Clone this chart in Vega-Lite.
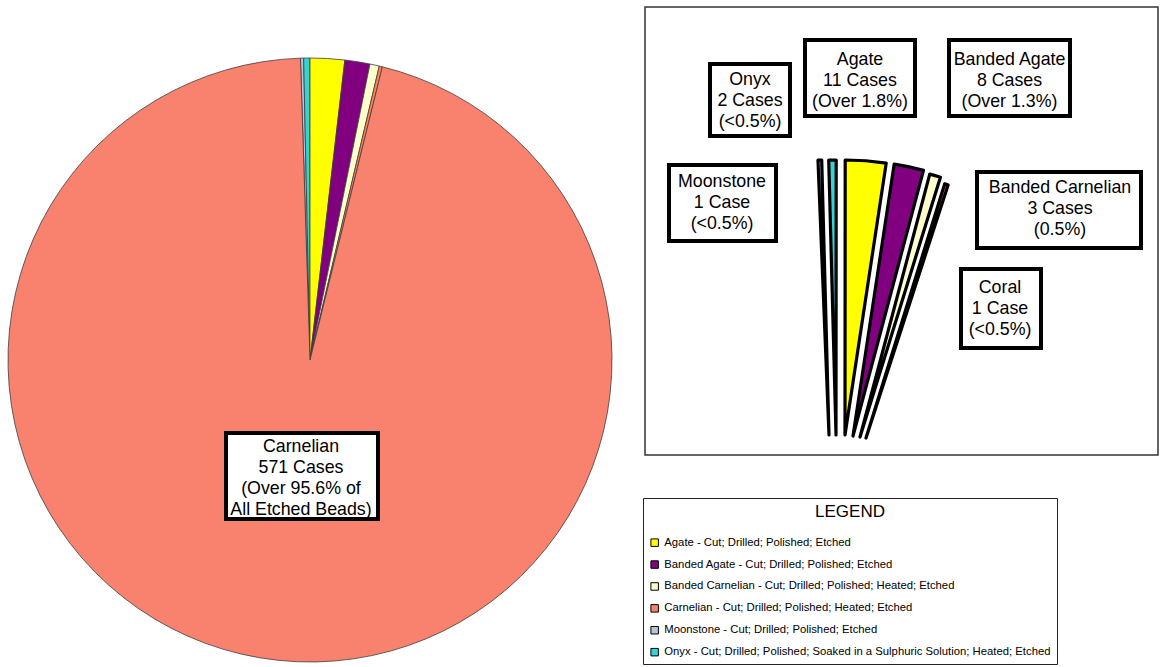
{
  "$schema": "https://vega.github.io/schema/vega-lite/v6.json",
  "width": 1160,
  "height": 667,
  "autosize": {"type": "none"},
  "padding": 0,
  "background": "white",
  "config": {"view": {"stroke": null}, "text": {"font": "Liberation Sans"}},
  "datasets": {
    "beads": [
      {"name": "Moonstone", "cases": 1, "rank": 1, "desc": "Moonstone - Cut; Drilled; Polished; Etched", "label": "Moonstone\n1 Case\n(<0.5%)"},
      {"name": "Onyx", "cases": 2, "rank": 2, "desc": "Onyx - Cut; Drilled; Polished; Soaked in a Sulphuric Solution; Heated; Etched", "label": "Onyx\n2 Cases\n(<0.5%)"},
      {"name": "Agate", "cases": 11, "rank": 3, "desc": "Agate - Cut; Drilled; Polished; Etched", "label": "Agate\n11 Cases\n(Over 1.8%)"},
      {"name": "Banded Agate", "cases": 8, "rank": 4, "desc": "Banded Agate - Cut; Drilled; Polished; Etched", "label": "Banded Agate\n8 Cases\n(Over 1.3%)"},
      {"name": "Banded Carnelian", "cases": 3, "rank": 5, "desc": "Banded Carnelian - Cut; Drilled; Polished; Heated; Etched", "label": "Banded Carnelian\n3 Cases\n(0.5%)"},
      {"name": "Coral", "cases": 1, "rank": 6, "desc": "Coral", "label": "Coral\n1 Case\n(<0.5%)"},
      {"name": "Carnelian", "cases": 571, "rank": 7, "desc": "Carnelian - Cut; Drilled; Polished; Heated; Etched", "label": "Carnelian\n571 Cases\n(Over 95.6% of\nAll Etched Beads)"}
    ]
  },
  "data": {"name": "beads"},
  "resolve": {"scale": {"theta": "independent"}},
  "layer": [
    {
      "mark": {"type": "arc", "x": 310, "y": 360, "outerRadius": 302, "stroke": "#3d3d3d", "strokeWidth": 0.8},
      "encoding": {
        "theta": {"field": "cases", "type": "quantitative", "scale": {"range": [-0.0316, 6.2516]}},
        "order": {"field": "rank", "type": "quantitative"},
        "color": {
          "field": "desc", "type": "nominal",
          "scale": {
            "domain": ["Agate - Cut; Drilled; Polished; Etched", "Banded Agate - Cut; Drilled; Polished; Etched", "Banded Carnelian - Cut; Drilled; Polished; Heated; Etched", "Carnelian - Cut; Drilled; Polished; Heated; Etched", "Coral", "Moonstone - Cut; Drilled; Polished; Etched", "Onyx - Cut; Drilled; Polished; Soaked in a Sulphuric Solution; Heated; Etched"],
            "range": ["#ffff00", "#800080", "#ffffcc", "#f9826f", "#ff7f50", "#b8c4d8", "#33d3d8"]
          },
          "legend": {
            "title": "LEGEND", "orient": "none", "legendX": 643, "legendY": 498,
            "values": ["Agate - Cut; Drilled; Polished; Etched", "Banded Agate - Cut; Drilled; Polished; Etched", "Banded Carnelian - Cut; Drilled; Polished; Heated; Etched", "Carnelian - Cut; Drilled; Polished; Heated; Etched", "Moonstone - Cut; Drilled; Polished; Etched", "Onyx - Cut; Drilled; Polished; Soaked in a Sulphuric Solution; Heated; Etched"],
            "symbolType": "square", "symbolSize": 56, "symbolStrokeColor": "black", "symbolStrokeWidth": 1,
            "labelFont": "Liberation Sans", "labelFontSize": 11.3, "labelColor": "black", "labelLimit": 600, "labelOffset": 4,
            "titleFont": "Liberation Sans", "titleFontSize": 17, "titleFontWeight": "normal", "titleColor": "black", "titleAnchor": "middle", "titlePadding": 16,
            "padding": 6, "rowPadding": 8.9, "strokeColor": "#222"
          }
        }
      }
    },
    {
      "data": {"values": [{}]},
      "layer": [
        {"mark": {"type": "rule", "x": 336, "y": 56, "x2": 352, "y2": 42, "stroke": "black", "strokeWidth": 1}, "encoding": {}},
        {"mark": {"type": "rule", "x": 352, "y": 42, "x2": 645, "y2": 42, "stroke": "black", "strokeWidth": 1}, "encoding": {}},
        {"mark": {"type": "rect", "x": 645, "y": 7, "x2": 1158, "y2": 455, "fillOpacity": 0, "stroke": "#333", "strokeWidth": 1.5}, "encoding": {}},
        {"mark": {"type": "rule", "x": 643, "y": 529, "x2": 1055, "y2": 529, "stroke": "#222", "strokeWidth": 1.5}, "encoding": {}}
      ]
    },
    {
      "transform": [
        {"filter": "datum.name !== 'Carnelian'"},
        {"stack": "cases", "groupby": [], "sort": [{"field": "rank", "order": "ascending"}], "as": ["t0", "t1"]}
      ],
      "encoding": {
        "theta": {"field": "t0", "type": "quantitative", "stack": null, "scale": {"range": [-0.0401, 0.3002]}},
        "theta2": {"field": "t1"},
        "color": {
          "field": "desc", "type": "nominal",
          "scale": {
            "domain": ["Agate - Cut; Drilled; Polished; Etched", "Banded Agate - Cut; Drilled; Polished; Etched", "Banded Carnelian - Cut; Drilled; Polished; Heated; Etched", "Carnelian - Cut; Drilled; Polished; Heated; Etched", "Coral", "Moonstone - Cut; Drilled; Polished; Etched", "Onyx - Cut; Drilled; Polished; Soaked in a Sulphuric Solution; Heated; Etched"],
            "range": ["#ffff00", "#800080", "#ffffcc", "#f9826f", "#ff7f50", "#b8c4d8", "#33d3d8"]
          },
          "legend": {
            "title": "LEGEND", "orient": "none", "legendX": 643, "legendY": 498,
            "values": ["Agate - Cut; Drilled; Polished; Etched", "Banded Agate - Cut; Drilled; Polished; Etched", "Banded Carnelian - Cut; Drilled; Polished; Heated; Etched", "Carnelian - Cut; Drilled; Polished; Heated; Etched", "Moonstone - Cut; Drilled; Polished; Etched", "Onyx - Cut; Drilled; Polished; Soaked in a Sulphuric Solution; Heated; Etched"],
            "symbolType": "square", "symbolSize": 56, "symbolStrokeColor": "black", "symbolStrokeWidth": 1,
            "labelFont": "Liberation Sans", "labelFontSize": 11.3, "labelColor": "black", "labelLimit": 600, "labelOffset": 4,
            "titleFont": "Liberation Sans", "titleFontSize": 17, "titleFontWeight": "normal", "titleColor": "black", "titleAnchor": "middle", "titlePadding": 16,
            "padding": 6, "rowPadding": 8.9, "strokeColor": "#222"
          }
        }
      },
      "layer": [
        {"transform": [{"filter": "datum.name === 'Moonstone'"}], "mark": {"type": "arc", "x": 829, "y": 435, "outerRadius": 275, "stroke": "black", "strokeWidth": 3.2, "strokeJoin": "round"}},
        {"transform": [{"filter": "datum.name === 'Onyx'"}], "mark": {"type": "arc", "x": 836, "y": 435, "outerRadius": 275, "stroke": "black", "strokeWidth": 3.2, "strokeJoin": "round"}},
        {"transform": [{"filter": "datum.name === 'Agate'"}], "mark": {"type": "arc", "x": 845, "y": 435, "outerRadius": 275, "stroke": "black", "strokeWidth": 3.2, "strokeJoin": "round"}},
        {"transform": [{"filter": "datum.name === 'Banded Agate'"}], "mark": {"type": "arc", "x": 853, "y": 436, "outerRadius": 275, "stroke": "black", "strokeWidth": 3.2, "strokeJoin": "round"}},
        {"transform": [{"filter": "datum.name === 'Banded Carnelian'"}], "mark": {"type": "arc", "x": 860, "y": 437, "outerRadius": 272, "stroke": "black", "strokeWidth": 3.2, "strokeJoin": "round"}},
        {"transform": [{"filter": "datum.name === 'Coral'"}], "mark": {"type": "arc", "x": 866, "y": 438, "outerRadius": 266, "stroke": "black", "strokeWidth": 3.2, "strokeJoin": "round"}}
      ]
    },
    {
      "transform": [{"filter": "datum.name === 'Carnelian'"}],
      "layer": [
        {"mark": {"type": "rect", "x": 226, "y": 433, "x2": 378, "y2": 519, "fill": "white", "stroke": "black", "strokeWidth": 4}, "encoding": {}},
        {"mark": {"type": "text", "x": 301, "y": 447, "align": "center", "baseline": "middle", "fontSize": 17.8, "lineHeight": 21, "lineBreak": "\n", "font": "Liberation Sans", "color": "black"}, "encoding": {"text": {"field": "label"}}}
      ]
    },
    {
      "transform": [{"filter": "datum.name === 'Onyx'"}],
      "layer": [
        {"mark": {"type": "rule", "x": 790, "y": 124, "x2": 833, "y2": 158, "stroke": "black", "strokeWidth": 4}, "encoding": {}},
        {"mark": {"type": "rect", "x": 710, "y": 64, "x2": 790, "y2": 136, "fill": "white", "stroke": "black", "strokeWidth": 4}, "encoding": {}},
        {"mark": {"type": "text", "x": 750, "y": 80, "align": "center", "baseline": "middle", "fontSize": 17.8, "lineHeight": 20.8, "lineBreak": "\n", "font": "Liberation Sans", "color": "black"}, "encoding": {"text": {"field": "label"}}}
      ]
    },
    {
      "transform": [{"filter": "datum.name === 'Agate'"}],
      "layer": [
        {"mark": {"type": "rule", "x": 868, "y": 116, "x2": 868, "y2": 161, "stroke": "black", "strokeWidth": 4}, "encoding": {}},
        {"mark": {"type": "rect", "x": 805, "y": 40, "x2": 915, "y2": 116, "fill": "white", "stroke": "black", "strokeWidth": 4}, "encoding": {}},
        {"mark": {"type": "text", "x": 860, "y": 60, "align": "center", "baseline": "middle", "fontSize": 17.8, "lineHeight": 20.8, "lineBreak": "\n", "font": "Liberation Sans", "color": "black"}, "encoding": {"text": {"field": "label"}}}
      ]
    },
    {
      "transform": [{"filter": "datum.name === 'Banded Agate'"}],
      "layer": [
        {"mark": {"type": "rule", "x": 950, "y": 116, "x2": 912, "y2": 167, "stroke": "black", "strokeWidth": 4}, "encoding": {}},
        {"mark": {"type": "rect", "x": 949, "y": 40, "x2": 1070, "y2": 116, "fill": "white", "stroke": "black", "strokeWidth": 4}, "encoding": {}},
        {"mark": {"type": "text", "x": 1009.5, "y": 60, "align": "center", "baseline": "middle", "fontSize": 17.8, "lineHeight": 20.8, "lineBreak": "\n", "font": "Liberation Sans", "color": "black"}, "encoding": {"text": {"field": "label"}}}
      ]
    },
    {
      "transform": [{"filter": "datum.name === 'Moonstone'"}],
      "layer": [
        {"mark": {"type": "rule", "x": 776, "y": 172, "x2": 818, "y2": 172, "stroke": "black", "strokeWidth": 4}, "encoding": {}},
        {"mark": {"type": "rect", "x": 669, "y": 165, "x2": 776, "y2": 241, "fill": "white", "stroke": "black", "strokeWidth": 4}, "encoding": {}},
        {"mark": {"type": "text", "x": 722, "y": 182, "align": "center", "baseline": "middle", "fontSize": 17.8, "lineHeight": 20.8, "lineBreak": "\n", "font": "Liberation Sans", "color": "black"}, "encoding": {"text": {"field": "label"}}}
      ]
    },
    {
      "transform": [{"filter": "datum.name === 'Banded Carnelian'"}],
      "layer": [
        {"mark": {"type": "rule", "x": 933, "y": 180, "x2": 977, "y2": 180, "stroke": "black", "strokeWidth": 4}, "encoding": {}},
        {"mark": {"type": "rect", "x": 977, "y": 172, "x2": 1141, "y2": 248, "fill": "white", "stroke": "black", "strokeWidth": 4}, "encoding": {}},
        {"mark": {"type": "text", "x": 1060, "y": 188, "align": "center", "baseline": "middle", "fontSize": 17.8, "lineHeight": 20.8, "lineBreak": "\n", "font": "Liberation Sans", "color": "black"}, "encoding": {"text": {"field": "label"}}}
      ]
    },
    {
      "transform": [{"filter": "datum.name === 'Coral'"}],
      "layer": [
        {"mark": {"type": "rule", "x": 915, "y": 290, "x2": 961, "y2": 290, "stroke": "black", "strokeWidth": 4}, "encoding": {}},
        {"mark": {"type": "rect", "x": 961, "y": 269, "x2": 1041, "y2": 348, "fill": "white", "stroke": "black", "strokeWidth": 4}, "encoding": {}},
        {"mark": {"type": "text", "x": 1000, "y": 288, "align": "center", "baseline": "middle", "fontSize": 17.8, "lineHeight": 20.8, "lineBreak": "\n", "font": "Liberation Sans", "color": "black"}, "encoding": {"text": {"field": "label"}}}
      ]
    }
  ]
}
